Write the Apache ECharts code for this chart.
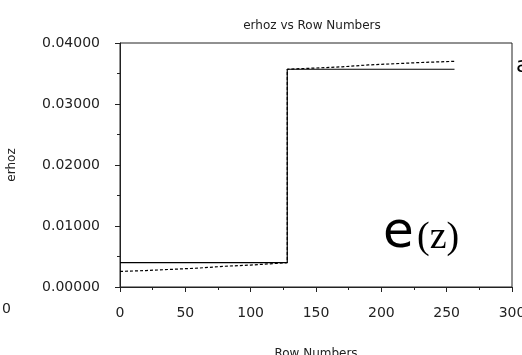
<!DOCTYPE html>
<html><head><meta charset="utf-8">
<script src="https://cdn.jsdelivr.net/npm/echarts@6/dist/echarts.min.js"></script>
<style>html,body{margin:0;padding:0;background:#fff}#c{width:522px;height:355px}</style>
</head><body><div id="c"></div>
<script>
// Data
const chartTitle = "erhoz vs Row Numbers";
const xName = "Row Numbers";
const yName = "erhoz";
const solidX = [0, 128, 128, 256];
const solidY = [0.0040, 0.0040, 0.0357, 0.0357];
const dashedX = [0, 20, 40, 60, 80, 100, 115, 128, 128, 150, 170, 190, 210, 230, 256];
const dashedY = [0.00255, 0.0027, 0.0029, 0.0031, 0.0034, 0.0036, 0.0038, 0.0040, 0.0357, 0.0359, 0.0361, 0.0364, 0.0366, 0.0368, 0.0370];

const pairs = (xs, ys) => xs.map((x, i) => [x, ys[i]]);
const chart = echarts.init(document.getElementById('c'));
const axisCol = '#222';
const font = 'DejaVu Sans';
chart.setOption({
  animation: false,
  grid: {left: 120, right: 10, top: 43, bottom: 68, show: true, borderColor: axisCol, borderWidth: 1, containLabel: false, outerBoundsMode: 'none'},
  xAxis: {
    type: 'value', min: 0, max: 300, interval: 50,
    name: xName, nameLocation: 'middle', nameGap: 61,
    nameTextStyle: {fontFamily: font, fontSize: 12, color: '#222'},
    axisLine: {lineStyle: {color: axisCol, width: 1}},
    axisTick: {show: true, length: 5, inside: false, lineStyle: {color: axisCol}},
    minorTick: {show: true, splitNumber: 2, length: 3, lineStyle: {color: axisCol}},
    splitLine: {show: false},
    axisLabel: {fontFamily: font, fontSize: 14, color: '#222', margin: 19}
  },
  yAxis: {
    type: 'value', min: 0, max: 0.04, interval: 0.01,
    name: yName, nameLocation: 'middle', nameGap: 102, nameRotate: 90,
    nameTextStyle: {fontFamily: font, fontSize: 12, color: '#222'},
    axisLine: {lineStyle: {color: axisCol, width: 1}},
    axisTick: {show: true, length: 5, inside: false, lineStyle: {color: axisCol}},
    minorTick: {show: true, splitNumber: 2, length: 3, lineStyle: {color: axisCol}},
    splitLine: {show: false},
    axisLabel: {fontFamily: font, fontSize: 14, color: '#222', margin: 20, formatter: v => v.toFixed(5)}
  },
  series: [
    {type: 'line', data: pairs(solidX, solidY), symbol: 'none', lineStyle: {color: '#000', width: 1.2, type: 'solid'}},
    {type: 'line', data: pairs(dashedX, dashedY), symbol: 'none', lineStyle: {color: '#000', width: 1.2, type: [3, 2]}}
  ],
  graphic: [
    {type: 'text', x: 312, y: 20, style: {text: chartTitle, font: '12px DejaVu Sans', fill: '#222', align: 'center', textAlign: 'center'}},
    {type: 'text', x: 383, y: 209, style: {text: 'e', font: '50px DejaVu Sans', fill: '#000'}},
    {type: 'text', x: 417, y: 219, style: {text: '(z)', font: '38px Liberation Serif', fill: '#000'}},
    {type: 'text', x: 516, y: 55, style: {text: 'a', font: '22px DejaVu Sans', fill: '#000'}},
    {type: 'text', x: 2, y: 302, style: {text: '0', font: '14px DejaVu Sans', fill: '#222'}}
  ]
});
</script></body></html>
